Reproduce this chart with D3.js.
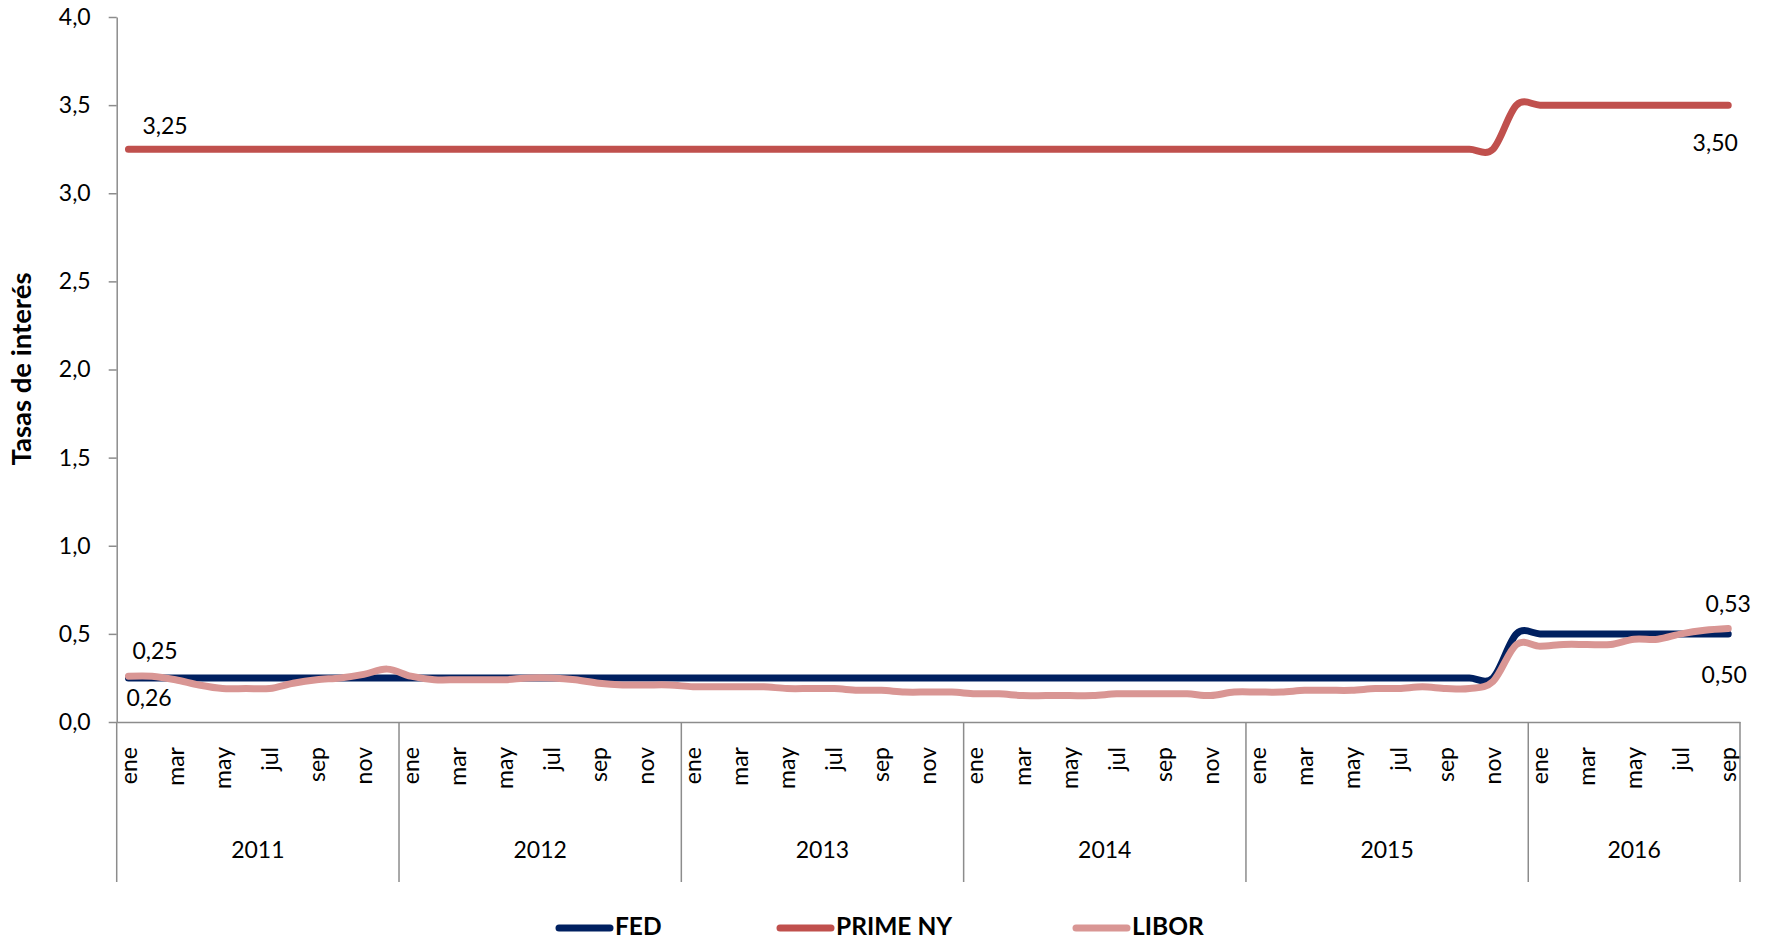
<!DOCTYPE html>
<html>
<head>
<meta charset="utf-8">
<script src="https://cdn.jsdelivr.net/npm/d3@7"></script>
<style>
  html, body { margin: 0; padding: 0; background: #fff; }
  svg { display: block; font-family: Lato, "Open Sans", sans-serif; }
</style>
</head>
<body>
<svg id="chart" width="1772" height="941"></svg>
<script>
// ---------- DATA ----------
const years = [2011, 2012, 2013, 2014, 2015, 2016];
const monthNames = ["ene","feb","mar","abr","may","jun","jul","ago","sep","oct","nov","dic"];
const monthsIn2016 = 9;
const yTicks = [0, 0.5, 1.0, 1.5, 2.0, 2.5, 3.0, 3.5, 4.0];

const fed = [
  0.25,0.25,0.25,0.25,0.25,0.25,0.25,0.25,0.25,0.25,0.25,0.25,
  0.25,0.25,0.25,0.25,0.25,0.25,0.25,0.25,0.25,0.25,0.25,0.25,
  0.25,0.25,0.25,0.25,0.25,0.25,0.25,0.25,0.25,0.25,0.25,0.25,
  0.25,0.25,0.25,0.25,0.25,0.25,0.25,0.25,0.25,0.25,0.25,0.25,
  0.25,0.25,0.25,0.25,0.25,0.25,0.25,0.25,0.25,0.25,0.25,0.50,
  0.50,0.50,0.50,0.50,0.50,0.50,0.50,0.50,0.50
];
const prime = [
  3.25,3.25,3.25,3.25,3.25,3.25,3.25,3.25,3.25,3.25,3.25,3.25,
  3.25,3.25,3.25,3.25,3.25,3.25,3.25,3.25,3.25,3.25,3.25,3.25,
  3.25,3.25,3.25,3.25,3.25,3.25,3.25,3.25,3.25,3.25,3.25,3.25,
  3.25,3.25,3.25,3.25,3.25,3.25,3.25,3.25,3.25,3.25,3.25,3.25,
  3.25,3.25,3.25,3.25,3.25,3.25,3.25,3.25,3.25,3.25,3.25,3.50,
  3.50,3.50,3.50,3.50,3.50,3.50,3.50,3.50,3.50
];
const libor = [
  0.26,0.26,0.24,0.21,0.19,0.19,0.19,0.22,0.24,0.25,0.27,0.30,
  0.26,0.24,0.24,0.24,0.24,0.25,0.25,0.24,0.22,0.21,0.21,0.21,
  0.20,0.20,0.20,0.20,0.19,0.19,0.19,0.18,0.18,0.17,0.17,0.17,
  0.16,0.16,0.15,0.15,0.15,0.15,0.16,0.16,0.16,0.16,0.15,0.17,
  0.17,0.17,0.18,0.18,0.18,0.19,0.19,0.20,0.19,0.19,0.23,0.44,
  0.43,0.44,0.44,0.44,0.47,0.47,0.50,0.52,0.53
];

const seriesNames = ["FED", "PRIME NY", "LIBOR"];
const seriesColors = ["#002060", "#C0504D", "#D99694"];

// ---------- BUILD ----------
const periods = [];
years.forEach(yr => {
  const n = yr === 2016 ? monthsIn2016 : 12;
  for (let m = 0; m < n; m++) periods.push({ year: yr, month: m, key: yr + "-" + m });
});
const seriesData = [fed, prime, libor];

const svg = d3.select("#chart");
const mLeft = 116.7, mRight = 1740, mTop = 17, mBottom = 722, catBottom = 882;
const fmt = v => v.toFixed(1).replace(".", ",");
const fmt2 = v => v.toFixed(2).replace(".", ",");
const axisColor = "#8c8c8c";

const x = d3.scaleBand().domain(periods.map(p => p.key)).range([mLeft, mRight]).padding(0);
const xc = k => x(k) + x.bandwidth() / 2;
const y = d3.scaleLinear().domain([0, 4]).range([mBottom, mTop]);

// Y axis
const yAxis = d3.axisLeft(y).tickValues(yTicks).tickSize(8).tickSizeOuter(0).tickFormat(fmt);
const gy = svg.append("g").attr("transform", `translate(${mLeft},0)`).call(yAxis);
gy.select(".domain").attr("stroke", axisColor).attr("stroke-width", 1.5);
gy.selectAll(".tick line").attr("stroke", axisColor).attr("stroke-width", 1.5);
gy.selectAll(".tick text").attr("font-size", 23).attr("fill", "#000").attr("x", -26)
  .attr("font-family", "Lato, sans-serif");
svg.append("line").attr("x1", mLeft).attr("x2", mLeft).attr("y1", mBottom).attr("y2", catBottom)
  .attr("stroke", axisColor).attr("stroke-width", 1.5);

// X axis (months)
const monthTicks = periods.filter(p => p.month % 2 === 0).map(p => p.key);
const xAxis = d3.axisBottom(x).tickValues(monthTicks).tickSize(0).tickSizeOuter(0)
  .tickFormat(k => monthNames[+k.split("-")[1]]);
const gx = svg.append("g").attr("transform", `translate(0,${mBottom})`).call(xAxis);
gx.select(".domain").attr("stroke", axisColor).attr("stroke-width", 1.5);
gx.selectAll(".tick text")
  .attr("font-size", 23).attr("fill", "#000").attr("font-family", "Lato, sans-serif")
  .attr("text-anchor", "end")
  .attr("transform", "rotate(-90)")
  .attr("x", -25).attr("y", 0).attr("dy", "0.35em");

// Year separators and labels
const sepG = svg.append("g");
const yearStarts = years.slice(1).map(yr => periods.find(p => p.year === yr).key);
yearStarts.forEach(k => {
  sepG.append("line").attr("x1", x(k)).attr("x2", x(k)).attr("y1", mBottom).attr("y2", catBottom)
    .attr("stroke", axisColor).attr("stroke-width", 1.5);
});
sepG.append("line").attr("x1", mRight).attr("x2", mRight).attr("y1", mBottom).attr("y2", catBottom)
  .attr("stroke", axisColor).attr("stroke-width", 1.5);
years.forEach(yr => {
  const ps = periods.filter(p => p.year === yr);
  const x0 = x(ps[0].key), x1 = x(ps[ps.length - 1].key) + x.bandwidth();
  svg.append("text").attr("x", (x0 + x1) / 2).attr("y", 858).attr("text-anchor", "middle")
    .attr("font-size", 23).text(yr);
});

// Y title
svg.append("text").attr("transform", "translate(31,369) rotate(-90)").attr("text-anchor", "middle")
  .attr("font-size", 27.5).attr("font-weight", "bold").text("Tasas de interés");

// Lines
const line = d3.line().x((d, i) => xc(periods[i].key)).y(d => y(d)).curve(d3.curveCardinal.tension(0));
seriesData.forEach((s, i) => {
  svg.append("path").datum(s).attr("d", line).attr("fill", "none")
    .attr("stroke", seriesColors[i]).attr("stroke-width", 7)
    .attr("stroke-linecap", "round").attr("stroke-linejoin", "round");
});

// Data labels
const first = periods[0].key, last = periods[periods.length - 1].key;
const n = periods.length - 1;
const labels = [
  { v: prime[0], k: first, dx: 14, dy: -15, anchor: "start" },
  { v: prime[n], k: last, dx: -13, dy: 46, anchor: "middle" },
  { v: fed[0], k: first, dx: 4, dy: -19, anchor: "start" },
  { v: libor[0], k: first, dx: -2, dy: 30, anchor: "start" },
  { v: libor[n], k: last, dx: 0, dy: -17, anchor: "middle" },
  { v: fed[n], k: last, dx: -4, dy: 49, anchor: "middle" }
];
labels.forEach(l => {
  svg.append("text").attr("x", xc(l.k) + l.dx).attr("y", y(l.v) + l.dy)
    .attr("text-anchor", l.anchor).attr("font-size", 23).text(fmt2(l.v));
});

// Legend
const legendX = [559, 780, 1076];
const legY = 928;
seriesNames.forEach((name, i) => {
  svg.append("line").attr("x1", legendX[i]).attr("x2", legendX[i] + 51)
    .attr("y1", legY).attr("y2", legY).attr("stroke", seriesColors[i])
    .attr("stroke-width", 7).attr("stroke-linecap", "round");
  svg.append("text").attr("x", legendX[i] + 56).attr("y", 935)
    .attr("font-size", 24.5).attr("font-weight", "bold").text(name);
});
</script>
</body>
</html>
